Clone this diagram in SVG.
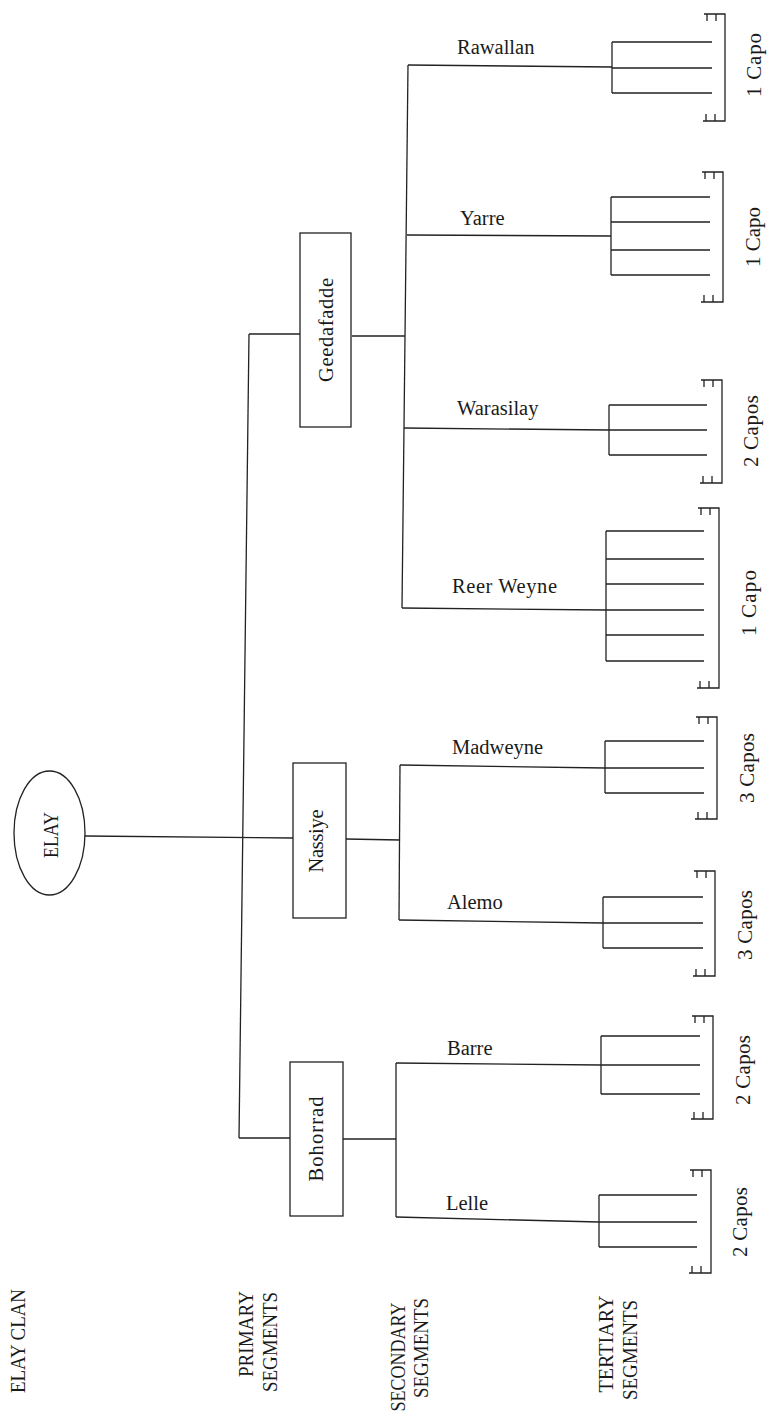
<svg xmlns="http://www.w3.org/2000/svg" width="770" height="1416" viewBox="0 0 770 1416">
<style>
.ln{fill:none;stroke:#222;stroke-width:1.3}
.bx{fill:#fff;stroke:#222;stroke-width:1.3}
.t{font-family:"Liberation Serif",serif;font-size:20.5px;fill:#1a1a1a}
.c{font-family:"Liberation Serif",serif;font-size:21px;fill:#1a1a1a}
.h{font-family:"Liberation Serif",serif;font-size:20px;fill:#1a1a1a}
</style>
<rect width="770" height="1416" fill="#fff"/>
<g id="connectors" class="ln">
<path d="M85,836 L293,838"/>
<path d="M249,334 L239,1138"/>
<path d="M249,334 H300"/>
<path d="M239,1138 H290"/>
<path d="M352,336 H405"/>
<path d="M346,839 L400,840"/>
<path d="M343,1139 H396"/>
<path d="M408,65 L402,608"/>
<path d="M400,765 L399,920"/>
<path d="M396,1063 L396,1217"/>
<path d="M408,65 L612,67"/>
<path d="M407,235 L611,236"/>
<path d="M404,428 L609,430"/>
<path d="M402,608 L606,610"/>
<path d="M400,765 L605,768"/>
<path d="M399,920 L603,923"/>
<path d="M396,1063 L601,1065"/>
<path d="M396,1217 L599,1222"/>
</g>
<g id="elay"><ellipse class="bx" cx="49.5" cy="833" rx="35.5" ry="62"/><text class="t" style="font-size:22px" transform="translate(58,835) rotate(-90)" text-anchor="middle" textLength="46" lengthAdjust="spacingAndGlyphs">ELAY</text></g>
<g id="geedafadde"><rect class="bx" x="300" y="233" width="51" height="194"/><text class="t" transform="translate(333,330) rotate(-90)" text-anchor="middle" textLength="104">Geedafadde</text></g>
<g id="nassiye"><rect class="bx" x="293" y="763" width="53" height="155"/><text class="t" transform="translate(323,841) rotate(-90)" text-anchor="middle" textLength="63">Nassiye</text></g>
<g id="bohorrad"><rect class="bx" x="290" y="1062" width="53" height="154"/><text class="t" transform="translate(323,1139) rotate(-90)" text-anchor="middle" textLength="85">Bohorrad</text></g>
<g id="rawallan"><text class="t" x="457" y="54">Rawallan</text></g>
<g id="yarre"><text class="t" x="460" y="225">Yarre</text></g>
<g id="warasilay"><text class="t" x="457" y="415">Warasilay</text></g>
<g id="reer-weyne"><text class="t" x="452" y="593" textLength="105">Reer Weyne</text></g>
<g id="madweyne"><text class="t" x="452" y="754">Madweyne</text></g>
<g id="alemo"><text class="t" x="447" y="909">Alemo</text></g>
<g id="barre"><text class="t" x="447" y="1055">Barre</text></g>
<g id="lelle"><text class="t" x="446" y="1210">Lelle</text></g>
<g id="tertiary-rawallan" class="ln"><path d="M612,42 V93 M612,42 H712 M612,68 H712 M612,93 H712"/><path d="M704,14 H725 V121 H703 M707,14 v7 M716,14 v7 M706,121 v-7 M715,121 v-7"/></g>
<g id="tertiary-yarre" class="ln"><path d="M611,197 V275 M611,197 H710 M611,222 H710 M611,250 H710 M611,275 H710"/><path d="M702,172 H723 V302 H701 M705,172 v7 M714,172 v7 M704,302 v-7 M713,302 v-7"/></g>
<g id="tertiary-warasilay" class="ln"><path d="M609,405 V455 M609,405 H707 M609,430 H707 M609,455 H707"/><path d="M701,380 H722 V483 H700 M704,380 v7 M713,380 v7 M703,483 v-7 M712,483 v-7"/></g>
<g id="tertiary-reer-weyne" class="ln"><path d="M606,531 V661 M606,531 H704 M606,559 H704 M606,584 H704 M606,610 H704 M606,635 H704 M606,661 H704"/><path d="M698,508 H719 V688 H697 M701,508 v7 M710,508 v7 M700,688 v-7 M709,688 v-7"/></g>
<g id="tertiary-madweyne" class="ln"><path d="M605,741 V793 M605,741 H704 M605,768 H704 M605,793 H704"/><path d="M696,717 H717 V819 H695 M699,717 v7 M708,717 v7 M698,819 v-7 M707,819 v-7"/></g>
<g id="tertiary-alemo" class="ln"><path d="M603,897 V948 M603,897 H703 M603,923 H703 M603,948 H703"/><path d="M694,871 H715 V976 H693 M697,871 v7 M706,871 v7 M696,976 v-7 M705,976 v-7"/></g>
<g id="tertiary-barre" class="ln"><path d="M601,1036 V1094 M601,1036 H700 M601,1065 H700 M601,1094 H700"/><path d="M692,1016 H713 V1119 H691 M695,1016 v7 M704,1016 v7 M694,1119 v-7 M703,1119 v-7"/></g>
<g id="tertiary-lelle" class="ln"><path d="M599,1195 V1247 M599,1195 H697 M599,1222 H697 M599,1247 H697"/><path d="M690,1170 H711 V1273 H689 M693,1170 v7 M702,1170 v7 M692,1273 v-7 M701,1273 v-7"/></g>
<g id="capos">
<text class="c" transform="translate(761,65) rotate(-90)" text-anchor="middle" textLength="64">1 Capo</text>
<text class="c" transform="translate(760,237) rotate(-90)" text-anchor="middle" textLength="60">1 Capo</text>
<text class="c" transform="translate(758,431) rotate(-90)" text-anchor="middle" textLength="72">2 Capos</text>
<text class="c" transform="translate(756,603) rotate(-90)" text-anchor="middle" textLength="66">1 Capo</text>
<text class="c" transform="translate(754,768) rotate(-90)" text-anchor="middle" textLength="70">3 Capos</text>
<text class="c" transform="translate(752,925) rotate(-90)" text-anchor="middle" textLength="70">3 Capos</text>
<text class="c" transform="translate(750,1070) rotate(-90)" text-anchor="middle" textLength="70">2 Capos</text>
<text class="c" transform="translate(747,1222) rotate(-90)" text-anchor="middle" textLength="70">2 Capos</text>
</g>
<g id="column-labels">
<text class="h" transform="translate(25,1341) rotate(-90)" text-anchor="middle" textLength="104" lengthAdjust="spacingAndGlyphs">ELAY CLAN</text>
<text class="h" transform="translate(253,1334) rotate(-90)" text-anchor="middle" textLength="86" lengthAdjust="spacingAndGlyphs">PRIMARY</text>
<text class="h" transform="translate(277,1342) rotate(-90)" text-anchor="middle" textLength="100" lengthAdjust="spacingAndGlyphs">SEGMENTS</text>
<text class="h" transform="translate(405,1357) rotate(-90)" text-anchor="middle" textLength="109" lengthAdjust="spacingAndGlyphs">SECONDARY</text>
<text class="h" transform="translate(428,1348) rotate(-90)" text-anchor="middle" textLength="100" lengthAdjust="spacingAndGlyphs">SEGMENTS</text>
<text class="h" transform="translate(613,1344) rotate(-90)" text-anchor="middle" textLength="97" lengthAdjust="spacingAndGlyphs">TERTIARY</text>
<text class="h" transform="translate(637,1350) rotate(-90)" text-anchor="middle" textLength="100" lengthAdjust="spacingAndGlyphs">SEGMENTS</text>
</g>
</svg>
